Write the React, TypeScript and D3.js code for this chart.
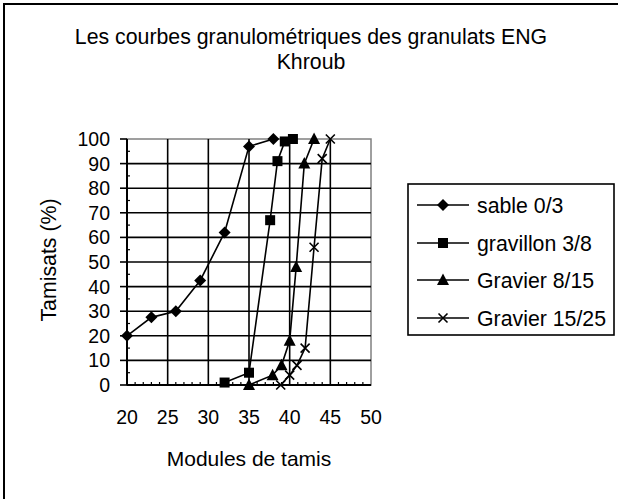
import React from "react";
import * as d3 from "d3";

const titleLines = ["Les courbes granulométriques des granulats ENG", "Khroub"];
const xLabel = "Modules de tamis";
const yLabel = "Tamisats (%)";
const xTicks = [20, 25, 30, 35, 40, 45, 50];
const yTicks = [0, 10, 20, 30, 40, 50, 60, 70, 80, 90, 100];

const seriesNames = ["sable 0/3", "gravillon 3/8", "Gravier 8/15", "Gravier 15/25"];
const seriesMarkers = ["diamond", "square", "triangle", "cross"];

const sableX = [20, 23, 26, 29, 32, 35, 38];
const sableY = [20, 27.5, 30, 42.5, 62, 97, 100];
const gravillonX = [32, 35, 37.6, 38.5, 39.4, 40.4];
const gravillonY = [1, 5, 67, 91, 99, 100];
const gravier815X = [35, 37.9, 39, 40, 40.8, 41.8, 43];
const gravier815Y = [0, 4, 8, 18, 48, 90, 100];
const gravier1525X = [38.9, 40, 40.9, 41.9, 43, 44, 45];
const gravier1525Y = [0, 4, 8, 15, 56, 92, 100];

const seriesX = [sableX, gravillonX, gravier815X, gravier1525X];
const seriesY = [sableY, gravillonY, gravier815Y, gravier1525Y];

const FONT = "'Liberation Sans', Arial, sans-serif";

function Marker({ type, x, y }: { type: string; x: number; y: number }) {
  if (type === "diamond") {
    const s = 6;
    return <path d={`M${x},${y - s}L${x + s},${y}L${x},${y + s}L${x - s},${y}Z`} fill="#000" />;
  }
  if (type === "square") {
    const s = 5;
    return <rect x={x - s} y={y - s} width={2 * s} height={2 * s} fill="#000" />;
  }
  if (type === "triangle") {
    return <path d={`M${x},${y - 6.5}L${x + 6},${y + 5}L${x - 6},${y + 5}Z`} fill="#000" />;
  }
  const s = 4.5;
  return (
    <path
      d={`M${x - s},${y - s}L${x + s},${y + s}M${x - s},${y + s}L${x + s},${y - s}`}
      stroke="#000"
      strokeWidth={1.6}
      fill="none"
    />
  );
}

export default function App() {
  const left = 127;
  const right = 371;
  const top = 139;
  const bottom = 385;
  const x = d3.scaleLinear().domain([20, 50]).range([left, right]);
  const y = d3.scaleLinear().domain([0, 100]).range([bottom, top]);
  const line = d3
    .line<[number, number]>()
    .x((d) => x(d[0]))
    .y((d) => y(d[1]));

  const xMinor = d3.range(20, 51, 1).filter((v) => v % 5 !== 0);
  const yMinor = d3.range(5, 100, 10);

  const legendLeft = 408;
  const legendTop = 184;
  const legendRowY = [205, 243, 280, 318];

  return (
    <svg
      width={618}
      height={499}
      style={{ position: "absolute", left: 0, top: 0, background: "#fff" }}
      fontFamily={FONT}
    >
      <rect x={0} y={0} width={618} height={499} fill="#fff" />
      <rect x={4} y={4} width={700} height={600} fill="none" stroke="#000" strokeWidth={2} />

      {titleLines.map((t, i) => (
        <text key={t} x={311} y={44 + i * 25} textAnchor="middle" fontSize={21.3} fill="#000">
          {t}
        </text>
      ))}

      <rect x={left} y={top} width={right - left} height={bottom - top} fill="none" stroke="#808080" strokeWidth={1.5} />

      {yTicks
        .filter((v) => v > 0 && v < 100)
        .map((v) => (
          <line key={"gy" + v} x1={left} x2={right} y1={y(v)} y2={y(v)} stroke="#000" strokeWidth={1.6} />
        ))}
      {xTicks
        .filter((v) => v > 20 && v < 50)
        .map((v) => (
          <line key={"gx" + v} x1={x(v)} x2={x(v)} y1={top} y2={bottom} stroke="#000" strokeWidth={1.6} />
        ))}

      {xMinor.map((v) => (
        <line key={"mx" + v} x1={x(v)} x2={x(v)} y1={bottom} y2={bottom - 3} stroke="#000" strokeWidth={1.2} />
      ))}
      {yMinor.map((v) => (
        <line key={"my" + v} x1={left} x2={left + 3} y1={y(v)} y2={y(v)} stroke="#000" strokeWidth={1.2} />
      ))}

      <line x1={left} x2={left} y1={top} y2={bottom} stroke="#000" strokeWidth={2} />
      <line x1={left} x2={right} y1={bottom} y2={bottom} stroke="#000" strokeWidth={2} />
      {yTicks.map((v) => (
        <line key={"ty" + v} x1={left - 7} x2={left} y1={y(v)} y2={y(v)} stroke="#000" strokeWidth={1.6} />
      ))}

      {yTicks.map((v) => (
        <text key={"ly" + v} x={110} y={y(v)} dy="0.36em" textAnchor="end" fontSize={19.5} fill="#000">
          {v}
        </text>
      ))}
      {xTicks.map((v) => (
        <text key={"lx" + v} x={x(v)} y={424} textAnchor="middle" fontSize={19.5} fill="#000">
          {v}
        </text>
      ))}

      <text x={(left + right) / 2} y={466} textAnchor="middle" fontSize={21} fill="#000">
        {xLabel}
      </text>
      <text transform={`translate(56,${(top + bottom) / 2 - 2}) rotate(-90)`} textAnchor="middle" fontSize={21.3} fill="#000">
        {yLabel}
      </text>

      {seriesX.map((xs, i) => {
        const pts = xs.map((xv, j) => [xv, seriesY[i][j]] as [number, number]);
        return (
          <g key={seriesNames[i]}>
            <path d={line(pts) || ""} fill="none" stroke="#000" strokeWidth={1.6} />
            {pts.map((p, j) => (
              <Marker key={j} type={seriesMarkers[i]} x={x(p[0])} y={y(p[1])} />
            ))}
          </g>
        );
      })}

      <rect x={legendLeft} y={legendTop} width={614 - legendLeft} height={335 - legendTop} fill="#fff" stroke="#000" strokeWidth={1.6} />
      {seriesNames.map((n, i) => (
        <g key={"lg" + n}>
          <line x1={417} x2={469} y1={legendRowY[i]} y2={legendRowY[i]} stroke="#000" strokeWidth={1.6} />
          <Marker type={seriesMarkers[i]} x={443} y={legendRowY[i]} />
          <text x={477} y={legendRowY[i]} dy="0.36em" fontSize={21.3} fill="#000">
            {n}
          </text>
        </g>
      ))}
    </svg>
  );
}
